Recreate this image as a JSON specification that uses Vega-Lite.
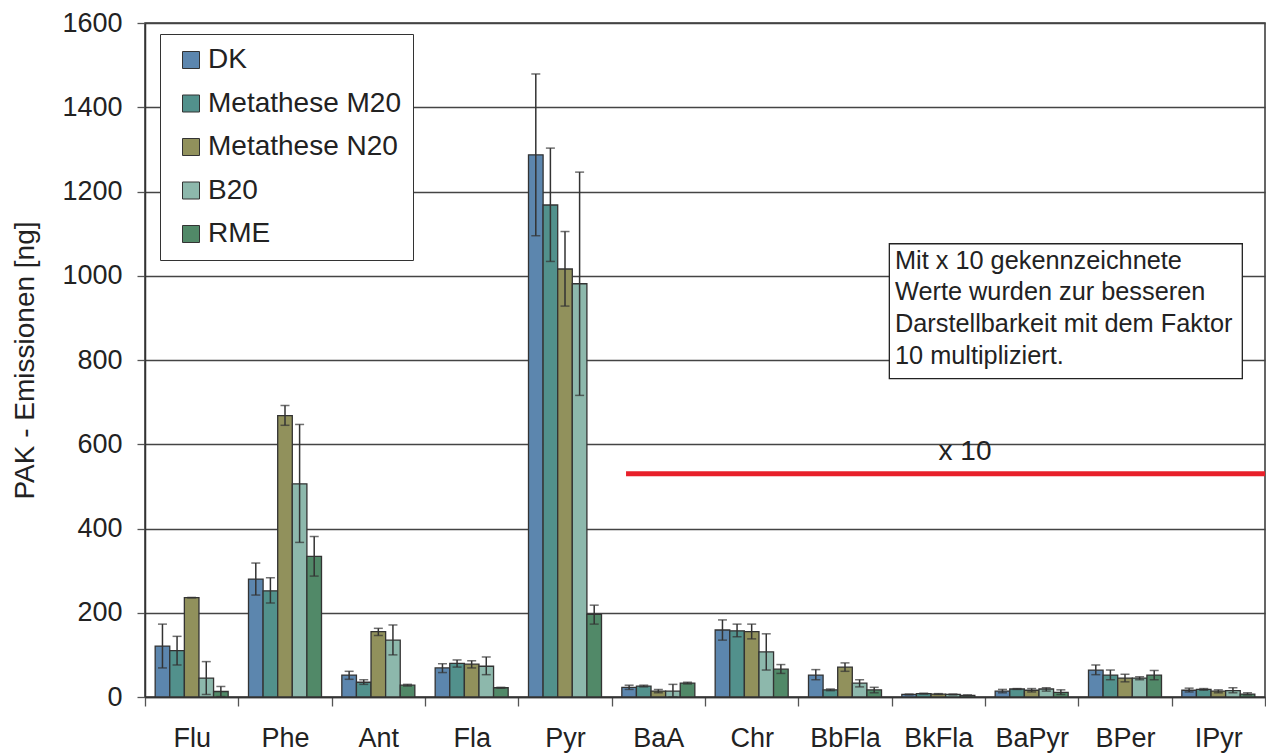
{
  "$schema": "https://vega.github.io/schema/vega-lite/v6.json",
  "width": 1120,
  "height": 674,
  "autosize": {"type": "none"},
  "padding": {"left": 145, "top": 23, "right": 1, "bottom": 57},
  "background": "white",
  "config": {
    "font": "Liberation Sans",
    "view": {"stroke": "#333333", "strokeWidth": 1.5},
    "axisY": {
      "labelFontSize": 27,
      "labelColor": "#222222",
      "labelPadding": 15,
      "tickSize": 8,
      "tickColor": "#555555",
      "tickWidth": 1.3,
      "domainColor": "#333333",
      "domainWidth": 1.5,
      "gridColor": "#444444",
      "gridWidth": 1.3,
      "titleFontSize": 28,
      "titleFontWeight": "normal",
      "titleColor": "#222222",
      "titlePadding": 22
    }
  },
  "datasets": {
    "pak": [
      {"cmp": "Flu", "fuel": "DK", "v": 121, "lo": 69, "hi": 173},
      {"cmp": "Flu", "fuel": "Metathese M20", "v": 110, "lo": 76, "hi": 144},
      {"cmp": "Flu", "fuel": "Metathese N20", "v": 236, "lo": 236, "hi": 236},
      {"cmp": "Flu", "fuel": "B20", "v": 45, "lo": 6, "hi": 84},
      {"cmp": "Flu", "fuel": "RME", "v": 13, "lo": 1, "hi": 25},
      {"cmp": "Phe", "fuel": "DK", "v": 280, "lo": 242, "hi": 318},
      {"cmp": "Phe", "fuel": "Metathese M20", "v": 252, "lo": 223, "hi": 283},
      {"cmp": "Phe", "fuel": "Metathese N20", "v": 668, "lo": 645, "hi": 692},
      {"cmp": "Phe", "fuel": "B20", "v": 506, "lo": 367, "hi": 647},
      {"cmp": "Phe", "fuel": "RME", "v": 334, "lo": 287, "hi": 381},
      {"cmp": "Ant", "fuel": "DK", "v": 52, "lo": 42, "hi": 61},
      {"cmp": "Ant", "fuel": "Metathese M20", "v": 35, "lo": 30, "hi": 41},
      {"cmp": "Ant", "fuel": "Metathese N20", "v": 155, "lo": 146, "hi": 163},
      {"cmp": "Ant", "fuel": "B20", "v": 135, "lo": 100, "hi": 171},
      {"cmp": "Ant", "fuel": "RME", "v": 28, "lo": 26, "hi": 30},
      {"cmp": "Fla", "fuel": "DK", "v": 69, "lo": 58, "hi": 79},
      {"cmp": "Fla", "fuel": "Metathese M20", "v": 80, "lo": 71, "hi": 88},
      {"cmp": "Fla", "fuel": "Metathese N20", "v": 78, "lo": 69, "hi": 86},
      {"cmp": "Fla", "fuel": "B20", "v": 73, "lo": 53, "hi": 95},
      {"cmp": "Fla", "fuel": "RME", "v": 22, "lo": 21, "hi": 23},
      {"cmp": "Pyr", "fuel": "DK", "v": 1287, "lo": 1095, "hi": 1479},
      {"cmp": "Pyr", "fuel": "Metathese M20", "v": 1168, "lo": 1034, "hi": 1303},
      {"cmp": "Pyr", "fuel": "Metathese N20", "v": 1016, "lo": 928, "hi": 1105},
      {"cmp": "Pyr", "fuel": "B20", "v": 981, "lo": 716, "hi": 1246},
      {"cmp": "Pyr", "fuel": "RME", "v": 196, "lo": 173, "hi": 218},
      {"cmp": "BaA", "fuel": "DK", "v": 23, "lo": 18, "hi": 28},
      {"cmp": "BaA", "fuel": "Metathese M20", "v": 26, "lo": 24, "hi": 28},
      {"cmp": "BaA", "fuel": "Metathese N20", "v": 14, "lo": 10, "hi": 18},
      {"cmp": "BaA", "fuel": "B20", "v": 14, "lo": 0, "hi": 30},
      {"cmp": "BaA", "fuel": "RME", "v": 33, "lo": 31, "hi": 35},
      {"cmp": "Chr", "fuel": "DK", "v": 159, "lo": 135, "hi": 183},
      {"cmp": "Chr", "fuel": "Metathese M20", "v": 157, "lo": 143, "hi": 173},
      {"cmp": "Chr", "fuel": "Metathese N20", "v": 155, "lo": 138, "hi": 173},
      {"cmp": "Chr", "fuel": "B20", "v": 107, "lo": 64, "hi": 150},
      {"cmp": "Chr", "fuel": "RME", "v": 66, "lo": 56, "hi": 77},
      {"cmp": "BbFla", "fuel": "DK", "v": 52, "lo": 41, "hi": 65},
      {"cmp": "BbFla", "fuel": "Metathese M20", "v": 17, "lo": 15, "hi": 19},
      {"cmp": "BbFla", "fuel": "Metathese N20", "v": 71, "lo": 61, "hi": 81},
      {"cmp": "BbFla", "fuel": "B20", "v": 33, "lo": 24, "hi": 41},
      {"cmp": "BbFla", "fuel": "RME", "v": 17, "lo": 10, "hi": 23},
      {"cmp": "BkFla", "fuel": "DK", "v": 6, "lo": 5, "hi": 7},
      {"cmp": "BkFla", "fuel": "Metathese M20", "v": 8, "lo": 7, "hi": 9},
      {"cmp": "BkFla", "fuel": "Metathese N20", "v": 7, "lo": 6, "hi": 8},
      {"cmp": "BkFla", "fuel": "B20", "v": 6, "lo": 5, "hi": 7},
      {"cmp": "BkFla", "fuel": "RME", "v": 4, "lo": 3, "hi": 5},
      {"cmp": "BaPyr", "fuel": "DK", "v": 14, "lo": 10, "hi": 18},
      {"cmp": "BaPyr", "fuel": "Metathese M20", "v": 19, "lo": 18, "hi": 20},
      {"cmp": "BaPyr", "fuel": "Metathese N20", "v": 16, "lo": 12, "hi": 20},
      {"cmp": "BaPyr", "fuel": "B20", "v": 19, "lo": 14, "hi": 22},
      {"cmp": "BaPyr", "fuel": "RME", "v": 11, "lo": 6, "hi": 17},
      {"cmp": "BPer", "fuel": "DK", "v": 64, "lo": 53, "hi": 76},
      {"cmp": "BPer", "fuel": "Metathese M20", "v": 52, "lo": 41, "hi": 64},
      {"cmp": "BPer", "fuel": "Metathese N20", "v": 45, "lo": 36, "hi": 54},
      {"cmp": "BPer", "fuel": "B20", "v": 45, "lo": 41, "hi": 48},
      {"cmp": "BPer", "fuel": "RME", "v": 52, "lo": 41, "hi": 63},
      {"cmp": "IPyr", "fuel": "DK", "v": 16, "lo": 12, "hi": 21},
      {"cmp": "IPyr", "fuel": "Metathese M20", "v": 18, "lo": 16, "hi": 20},
      {"cmp": "IPyr", "fuel": "Metathese N20", "v": 14, "lo": 10, "hi": 17},
      {"cmp": "IPyr", "fuel": "B20", "v": 15, "lo": 10, "hi": 22},
      {"cmp": "IPyr", "fuel": "RME", "v": 7, "lo": 5, "hi": 10}
    ],
    "redline": [{"x1": 5.154, "x2": 12, "y": 530}],
    "x10": [{"x": 8.786, "y": 562, "label": "x 10"}],
    "box": [{"x1": 7.975, "x2": 11.757, "y1": 756, "y2": 1076}],
    "note": [{"x": 8.036, "y": 1017, "lines": ["Mit x 10 gekennzeichnete", "Werte wurden zur besseren", "Darstellbarkeit mit dem Faktor", "10 multipliziert."]}]
  },
  "layer": [
    {
      "data": {"name": "pak"},
      "encoding": {
        "x": {
          "field": "cmp",
          "type": "nominal",
          "sort": ["Flu", "Phe", "Ant", "Fla", "Pyr", "BaA", "Chr", "BbFla", "BkFla", "BaPyr", "BPer", "IPyr"],
          "scale": {"paddingInner": 0, "paddingOuter": 0},
          "axis": {
            "title": null,
            "labelAngle": 0,
            "labelFontSize": 27,
            "labelColor": "#222222",
            "tickBand": "extent",
            "tickSize": 9,
            "tickColor": "#555555",
            "tickWidth": 1.3,
            "labelPadding": 19,
            "domainColor": "#333333",
            "domainWidth": 1.5
          }
        },
        "xOffset": {
          "field": "fuel",
          "type": "nominal",
          "sort": ["DK", "Metathese M20", "Metathese N20", "B20", "RME"],
          "scale": {"paddingInner": 0, "paddingOuter": 0.696}
        }
      },
      "layer": [
        {
          "mark": {"type": "bar", "stroke": "#333333", "strokeWidth": 1.3},
          "encoding": {
            "y": {"field": "v", "type": "quantitative", "title": "PAK - Emissionen [ng]", "scale": {"domain": [0, 1600], "nice": false}, "axis": {"values": [0, 200, 400, 600, 800, 1000, 1200, 1400, 1600], "format": "d"}},
            "color": {
              "field": "fuel",
              "type": "nominal",
              "sort": ["DK", "Metathese M20", "Metathese N20", "B20", "RME"],
              "scale": {
                "domain": ["DK", "Metathese M20", "Metathese N20", "B20", "RME"],
                "range": ["#5c86ae", "#52918c", "#91915c", "#8db8ac", "#518968"]
              },
              "legend": {
                "title": null,
                "orient": "none",
                "legendX": 15,
                "legendY": 11,
                "strokeColor": "#333333",
                "fillColor": "white",
                "padding": 12,
                "symbolType": "square",
                "symbolSize": 289,
                "symbolStrokeColor": "#333333",
                "symbolStrokeWidth": 1,
                "symbolOpacity": 1,
                "symbolOffset": 5,
                "labelFontSize": 28,
                "labelColor": "#222222",
                "labelOffset": 3,
                "rowPadding": 15.5,
                "labelLimit": 400
              }
            }
          }
        },
        {
          "mark": {"type": "rule", "color": "#333333", "strokeWidth": 1.5},
          "encoding": {
            "y": {"field": "lo", "type": "quantitative", "title": "PAK - Emissionen [ng]", "scale": {"domain": [0, 1600], "nice": false}, "axis": {"values": [0, 200, 400, 600, 800, 1000, 1200, 1400, 1600], "format": "d"}},
            "y2": {"field": "hi"}
          }
        },
        {
          "mark": {"type": "tick", "color": "#333333", "thickness": 1.5, "size": 9, "orient": "horizontal"},
          "encoding": {
            "y": {"field": "lo", "type": "quantitative", "title": "PAK - Emissionen [ng]", "scale": {"domain": [0, 1600], "nice": false}, "axis": {"values": [0, 200, 400, 600, 800, 1000, 1200, 1400, 1600], "format": "d"}}
          }
        },
        {
          "mark": {"type": "tick", "color": "#333333", "thickness": 1.5, "size": 9, "orient": "horizontal"},
          "encoding": {
            "y": {"field": "hi", "type": "quantitative", "title": "PAK - Emissionen [ng]", "scale": {"domain": [0, 1600], "nice": false}, "axis": {"values": [0, 200, 400, 600, 800, 1000, 1200, 1400, 1600], "format": "d"}}
          }
        }
      ]
    },
    {
      "layer": [
        {
          "data": {"name": "redline"},
          "mark": {"type": "rule", "color": "#e8202a", "strokeWidth": 5},
          "encoding": {
            "x": {"field": "x1", "type": "quantitative", "scale": {"domain": [0, 12], "nice": false}, "axis": null},
            "x2": {"field": "x2"},
            "y": {"field": "y", "type": "quantitative", "title": "PAK - Emissionen [ng]", "scale": {"domain": [0, 1600], "nice": false}, "axis": {"values": [0, 200, 400, 600, 800, 1000, 1200, 1400, 1600], "format": "d"}}
          }
        },
        {
          "data": {"name": "x10"},
          "mark": {"type": "text", "fontSize": 28, "color": "#222222", "align": "center", "baseline": "alphabetic"},
          "encoding": {
            "x": {"field": "x", "type": "quantitative", "scale": {"domain": [0, 12], "nice": false}, "axis": null},
            "y": {"field": "y", "type": "quantitative", "title": "PAK - Emissionen [ng]", "scale": {"domain": [0, 1600], "nice": false}, "axis": {"values": [0, 200, 400, 600, 800, 1000, 1200, 1400, 1600], "format": "d"}},
            "text": {"field": "label", "type": "nominal"}
          }
        },
        {
          "data": {"name": "box"},
          "mark": {"type": "rect", "fill": "white", "stroke": "#222222", "strokeWidth": 1.3},
          "encoding": {
            "x": {"field": "x1", "type": "quantitative", "scale": {"domain": [0, 12], "nice": false}, "axis": null},
            "x2": {"field": "x2"},
            "y": {"field": "y1", "type": "quantitative", "title": "PAK - Emissionen [ng]", "scale": {"domain": [0, 1600], "nice": false}, "axis": {"values": [0, 200, 400, 600, 800, 1000, 1200, 1400, 1600], "format": "d"}},
            "y2": {"field": "y2"}
          }
        },
        {
          "data": {"name": "note"},
          "mark": {"type": "text", "fontSize": 25.3, "color": "#222222", "align": "left", "baseline": "alphabetic", "lineHeight": 31.7},
          "encoding": {
            "x": {"field": "x", "type": "quantitative", "scale": {"domain": [0, 12], "nice": false}, "axis": null},
            "y": {"field": "y", "type": "quantitative", "title": "PAK - Emissionen [ng]", "scale": {"domain": [0, 1600], "nice": false}, "axis": {"values": [0, 200, 400, 600, 800, 1000, 1200, 1400, 1600], "format": "d"}},
            "text": {"field": "lines", "type": "nominal"}
          }
        }
      ]
    }
  ],
  "resolve": {"scale": {"x": "independent"}}
}
